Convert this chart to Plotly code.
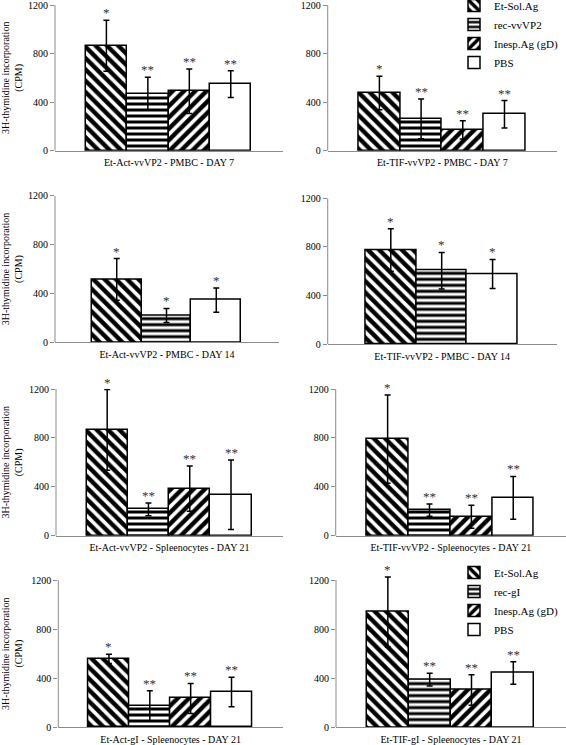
import plotly.graph_objects as go

# ---------------- data ----------------
panel_titles = [
    "Et-Act-vvVP2 - PMBC - DAY 7", "Et-TIF-vvVP2 - PMBC - DAY 7",
    "Et-Act-vvVP2 - PMBC - DAY 14", "Et-TIF-vvVP2 - PMBC - DAY 14",
    "Et-Act-vvVP2 - Spleenocytes - DAY 21", "Et-TIF-vvVP2 - Spleenocytes - DAY 21",
    "Et-Act-gI - Spleenocytes - DAY 21", "Et-TIF-gI - Spleenocytes - DAY 21",
]
series_names_vp2 = ["Et-Sol.Ag", "rec-vvVP2", "Inesp.Ag (gD)", "PBS"]
series_names_gi = ["Et-Sol.Ag", "rec-gI", "Inesp.Ag (gD)", "PBS"]
panel_series_names = [series_names_vp2] * 6 + [series_names_gi] * 2

sol_values = [865, 475, 515, 775, 865, 790, 557, 940]
sol_errors = [210, 138, 170, 175, 330, 360, 38, 285]
sol_stars = ["*", "*", "*", "*", "*", "*", "*", "*"]

rec_values = [470, 262, 220, 605, 215, 210, 175, 388]
rec_errors = [134, 164, 57, 150, 52, 50, 122, 52]
rec_stars = ["**", "**", "*", "*", "**", "**", "**", "**"]

inesp_values = [490, 171, None, None, 385, 155, 235, 304]
inesp_errors = [183, 75, None, None, 185, 95, 122, 125]
inesp_stars = ["**", "**", None, None, "**", "**", "**", "**"]

pbs_values = [548, 300, 345, 578, 335, 310, 288, 442]
pbs_errors = [110, 113, 100, 120, 285, 175, 120, 92]
pbs_stars = ["**", "**", "*", "*", "**", "**", "**", "**"]

y_ticks = [0, 400, 800, 1200]
y_title = "3H-thymidine incorporation<br>(CPM)"

# ---------------- styles / layout ----------------
W, H = 566, 745
FONT = "Liberation Serif, Times New Roman, serif"
patterns = [
    dict(shape="\\", size=8, solidity=0.55),
    dict(shape="-", size=6, solidity=0.5),
    dict(shape="/", size=8, solidity=0.55),
    dict(shape="", size=8, solidity=0.5),
]
# panel pixel boxes: (left, right, top of 1200, bottom)
boxes = [
    (55, 283, 5, 150.7), (327.7, 557, 5, 150.7),
    (55, 279, 195.7, 342.3), (327.7, 556.7, 198.3, 344.3),
    (56, 283, 389, 535.7), (335.7, 566, 389, 535.7),
    (58.3, 283, 580, 727.3), (336, 566, 580, 727.3),
]

fig = go.Figure()
values = [sol_values, rec_values, inesp_values, pbs_values]
errors = [sol_errors, rec_errors, inesp_errors, pbs_errors]
stars = [sol_stars, rec_stars, inesp_stars, pbs_stars]

annotations = []
shapes = []
for i in range(8):
    ax = "" if i == 0 else str(i + 1)
    names = panel_series_names[i]
    n_bars = 0
    tops = []
    for s in range(4):
        v = values[s][i]
        if v is None:
            continue
        n_bars += 1
        e = errors[s][i]
        tops.append(v + e)
        show = i in (1, 7)
        fig.add_trace(go.Bar(
            x=[names[s]], y=[v],
            error_y=dict(type="data", array=[e], color="black", thickness=1.5, width=3),
            marker=dict(color="white", line=dict(color="black", width=1.5),
                        pattern=dict(fgcolor="black", bgcolor="white", **patterns[s])),
            name=names[s], showlegend=show,
            legend="legend" if i == 1 else "legend2",
            xaxis="x" + ax, yaxis="y" + ax,
        ))
        if stars[s][i]:
            annotations.append(dict(
                x=names[s], y=v + e, xref="x" + ax, yref="y" + ax,
                text=stars[s][i], showarrow=False, yanchor="bottom", yshift=-2,
                font=dict(family=FONT, size=13, color="#333333"),
            ))
    # headroom only where an error bar runs past the 1200 tick
    y_max = y_ticks[-1] if max(tops) < y_ticks[-1] else y_ticks[-1] + 60
    l, r, t, b = boxes[i]
    top_px = b - (b - t) * y_max / y_ticks[-1]
    fig.layout["xaxis" + ax] = dict(
        domain=[l / W, r / W], anchor="y" + ax,
        range=[-1.24, n_bars - 0.5 + 0.76], automargin=False,
        showline=True, linecolor="#8c8c8c", linewidth=1,
        showticklabels=False, ticks="", showgrid=False, zeroline=False,
        title=dict(text=panel_titles[i], font=dict(family=FONT, size=10, color="black"), standoff=8),
    )
    fig.layout["yaxis" + ax] = dict(
        domain=[1 - b / H, min(1.0, 1 - top_px / H)], anchor="x" + ax,
        range=[0, y_max], tickvals=y_ticks, automargin=False,
        ticklabeloverflow="allow",
        showline=False,
        ticks="outside", ticklen=4, tickcolor="#8c8c8c",
        showgrid=False, zeroline=False,
        tickfont=dict(family=FONT, size=10, color="black"),
        title=dict(text=y_title if i % 2 == 0 else "",
                   font=dict(family=FONT, size=10, color="black"), standoff=8),
    )
    # y axis line from 0 to 1200 only
    shapes.append(dict(type="line", xref="x" + ax + " domain", x0=0, x1=0,
                       yref="y" + ax, y0=y_ticks[0], y1=y_ticks[-1],
                       line=dict(color="#8c8c8c", width=1)))

fig.update_layout(
    template="none",
    width=W, height=H, margin=dict(l=0, r=0, t=0, b=0, autoexpand=False),
    paper_bgcolor="white", plot_bgcolor="white",
    barmode="overlay", bargap=0,
    font=dict(family=FONT, size=10, color="black"),
    annotations=annotations, shapes=shapes,
    legend=dict(x=454 / W, y=1.012, xanchor="left", yanchor="top",
                font=dict(family=FONT, size=11, color="black"),
                bgcolor="rgba(0,0,0,0)", tracegroupgap=0, itemwidth=30),
    legend2=dict(x=454 / W, y=1 - 558 / H, xanchor="left", yanchor="top",
                 font=dict(family=FONT, size=11, color="black"),
                 bgcolor="rgba(0,0,0,0)", tracegroupgap=0, itemwidth=30),
)

fig.write_html(
    "out.html",
    config={"displayModeBar": False},
    post_script="document.body.style.margin='0';document.body.style.overflow='hidden';",
)
